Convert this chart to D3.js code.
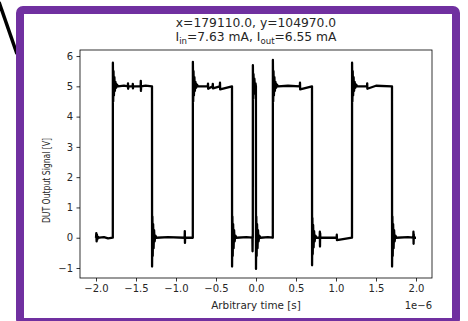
<!DOCTYPE html>
<html>
<head>
<meta charset="utf-8">
<script src="https://cdn.jsdelivr.net/npm/d3@7"></script>
<style>
  body { margin: 0; background: #fff; }
  svg { display: block; font-family: "DejaVu Sans", sans-serif; }
</style>
</head>
<body>
<svg id="chart" width="468" height="321"></svg>
<script>
// tick values
var xTicks = [-2.0, -1.5, -1.0, -0.5, 0.0, 0.5, 1.0, 1.5, 2.0];
var yTicks = [-1, 0, 1, 2, 3, 4, 5, 6];

// waveform, time in microseconds (axis is scaled by 1e-6)
var timeUs = [
  -2.000, -1.996, -1.992, -1.988, -1.984, -1.978, -1.960, -1.900, -1.850, -1.790,
  -1.789, -1.785, -1.781, -1.776, -1.770, -1.764, -1.757, -1.748, -1.738, -1.725,
  -1.650, -1.602, -1.600, -1.598, -1.596, -1.542, -1.540, -1.538, -1.536, -1.442,
  -1.440, -1.438, -1.436, -1.380, -1.300,
  -1.299, -1.295, -1.291, -1.286, -1.280, -1.274, -1.267, -1.258, -1.245, -1.100,
  -0.892, -0.890, -0.888, -0.886, -0.790,
  -0.789, -0.785, -0.781, -0.776, -0.770, -0.764, -0.757, -0.748, -0.738, -0.725,
  -0.602, -0.600, -0.598, -0.542, -0.540, -0.538, -0.452, -0.450, -0.448, -0.300,
  -0.299, -0.295, -0.291, -0.286, -0.280, -0.274, -0.267, -0.258, -0.245, -0.120,
  -0.045, -0.043, -0.041, -0.040,
  -0.039, -0.035, -0.031, -0.026, -0.020, -0.013, -0.006, -0.001,
   0.000, 0.004, 0.008, 0.013, 0.019, 0.025, 0.032, 0.041, 0.055, 0.150, 0.210,
   0.211, 0.215, 0.219, 0.224, 0.230, 0.236, 0.243, 0.252, 0.262, 0.275,
   0.400, 0.548, 0.550, 0.552, 0.700,
   0.701, 0.705, 0.709, 0.714, 0.720, 0.726, 0.733, 0.742, 0.755,
   0.796, 0.798, 0.800, 0.802, 0.804, 1.008, 1.010, 1.012, 1.200,
   1.201, 1.205, 1.209, 1.214, 1.220, 1.226, 1.233, 1.242, 1.252, 1.265,
   1.388, 1.390, 1.392, 1.500, 1.700,
   1.701, 1.705, 1.709, 1.714, 1.720, 1.726, 1.733, 1.742, 1.755, 1.900,
   1.966, 1.968, 1.970, 1.972, 1.974, 2.000
];
var signalV = [
  0.00, 0.15, -0.12, 0.10, -0.06, 0.03, 0.00, 0.02, -0.02, 0.00,
  5.78, 4.50, 5.50, 4.70, 5.30, 4.85, 5.15, 4.95, 5.06, 5.00,
  5.02, 5.00, 5.10, 4.92, 5.00, 5.00, 5.08, 4.93, 5.00, 5.00,
  5.18, 4.85, 5.00, 5.02, 5.00,
  -0.95, 0.70, -0.60, 0.45, -0.35, 0.25, -0.12, 0.07, 0.00, 0.02,
  0.00, 0.22, -0.17, 0.00, 0.00,
  5.81, 4.50, 5.50, 4.70, 5.30, 4.85, 5.15, 4.95, 5.06, 5.00,
  5.00, 5.09, 4.92, 5.00, 5.08, 4.93, 5.00, 5.12, 4.90, 5.00,
  -0.95, 0.70, -0.60, 0.45, -0.35, 0.25, -0.12, 0.07, 0.00, 0.02,
  0.00, -0.45, 0.10, 0.00,
  5.70, 4.60, 5.40, 4.75, 5.25, 4.90, 5.10, 5.00,
  -1.03, 0.70, -0.60, 0.45, -0.35, 0.25, -0.12, 0.07, 0.00, 0.02, 0.00,
  5.87, 4.50, 5.50, 4.70, 5.30, 4.85, 5.15, 4.95, 5.06, 5.00,
  5.02, 5.00, 5.12, 4.90, 5.00,
  -0.91, 0.65, -0.55, 0.42, -0.32, 0.22, -0.12, 0.07, 0.00,
  0.00, 0.20, -0.29, 0.15, 0.00, 0.00, 0.10, -0.08, 0.00,
  5.78, 4.50, 5.50, 4.70, 5.30, 4.85, 5.15, 4.95, 5.06, 5.00,
  5.00, 5.10, 4.92, 5.02, 5.00,
  -0.95, 0.70, -0.60, 0.45, -0.35, 0.25, -0.12, 0.07, 0.00, 0.02,
  0.00, 0.20, -0.20, 0.12, 0.00, 0.00
];

var titleLine1 = "x=179110.0, y=104970.0";
var xLabel = "Arbitrary time [s]";
var yLabel = "DUT Output Signal [V]";

function drawChart(svgID) {
  var svg = d3.select(svgID);

  // stray pen stroke and purple frame around the figure
  svg.append("line")
    .attr("x1", -1).attr("y1", 2)
    .attr("x2", 17).attr("y2", 54)
    .attr("stroke", "#000")
    .attr("stroke-width", 3.5);

  svg.append("rect")
    .attr("x", 20).attr("y", 10)
    .attr("width", 436).attr("height", 312)
    .attr("rx", 3)
    .attr("fill", "#fff")
    .attr("stroke", "#7030a0")
    .attr("stroke-width", 8);

  var left = 80, right = 432, top = 50, bottom = 278;

  var x = d3.scaleLinear().domain([-2.2e-6, 2.2e-6]).range([left, right]);
  var y = d3.scaleLinear().domain([-1.33, 6.2]).range([bottom, top]);

  var fmtX = d3.format(".1f");

  var xAxis = svg.append("g")
    .attr("transform", "translate(0," + bottom + ")")
    .call(d3.axisBottom(x)
      .tickValues(xTicks.map(function(d) { return d * 1e-6; }))
      .tickFormat(function(d) { return fmtX(d / 1e-6); })
      .tickSizeOuter(0)
      .tickSize(3.5)
      .tickPadding(3.5));

  var yAxis = svg.append("g")
    .attr("transform", "translate(" + left + ",0)")
    .call(d3.axisLeft(y)
      .tickValues(yTicks)
      .tickFormat(d3.format("d"))
      .tickSizeOuter(0)
      .tickSize(3.5)
      .tickPadding(3.5));

  [xAxis, yAxis].forEach(function(ax) {
    ax.select(".domain").remove();
    ax.selectAll("line").attr("stroke", "#000").attr("stroke-width", 0.8);
    ax.selectAll("text")
      .attr("fill", "#262626")
      .style("font-family", "DejaVu Sans")
      .style("font-size", "10px");
  });

  // the waveform
  var points = timeUs.map(function(t, i) {
    return { t: t * 1e-6, v: signalV[i] };
  });

  var line = d3.line()
    .x(function(d) { return x(d.t); })
    .y(function(d) { return y(d.v); });

  svg.append("path")
    .datum(points)
    .attr("d", line)
    .attr("fill", "none")
    .attr("stroke", "#000")
    .attr("stroke-width", 2.3)
    .attr("stroke-linejoin", "round");

  // spines
  svg.append("rect")
    .attr("x", left).attr("y", top)
    .attr("width", right - left).attr("height", bottom - top)
    .attr("fill", "none")
    .attr("stroke", "#000")
    .attr("stroke-width", 0.8);

  // title, two lines, second one with subscripts
  svg.append("text")
    .attr("x", (left + right) / 2).attr("y", 27)
    .attr("text-anchor", "middle")
    .attr("fill", "#262626")
    .style("font-size", "12.3px")
    .text(titleLine1);

  var t2 = svg.append("text")
    .attr("x", (left + right) / 2).attr("y", 41)
    .attr("text-anchor", "middle")
    .attr("fill", "#262626")
    .style("font-size", "12.3px");
  t2.append("tspan").text("I");
  t2.append("tspan").attr("dy", 2.5).style("font-size", "8.6px").text("in");
  t2.append("tspan").attr("dy", -2.5).text("=7.63 mA, I");
  t2.append("tspan").attr("dy", 2.5).style("font-size", "8.6px").text("out");
  t2.append("tspan").attr("dy", -2.5).text("=6.55 mA");

  // axis labels and offset text
  svg.append("text")
    .attr("x", (left + right) / 2).attr("y", 309)
    .attr("text-anchor", "middle")
    .attr("fill", "#262626")
    .style("font-size", "10.4px")
    .text(xLabel);

  svg.append("text")
    .attr("x", right).attr("y", 309)
    .attr("text-anchor", "end")
    .attr("fill", "#262626")
    .style("font-size", "10px")
    .text("1e\u22126");

  // the reference looks squeezed vertically, so the y label is shorter
  svg.append("text")
    .attr("transform", "translate(50,180.5) rotate(-90) scale(0.77,1)")
    .attr("text-anchor", "middle")
    .attr("fill", "#262626")
    .style("font-size", "10px")
    .text(yLabel);
}

drawChart("#chart");
</script>
</body>
</html>
